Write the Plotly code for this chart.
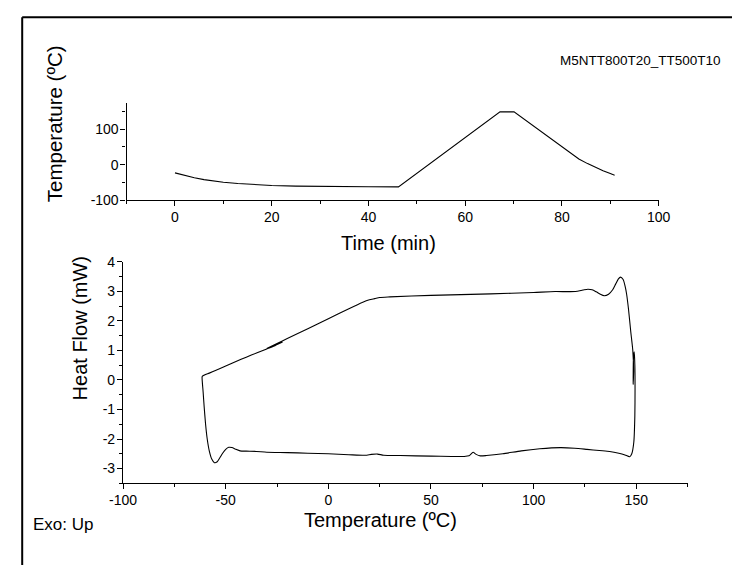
import plotly.graph_objects as go

# ---- temperature programme (top panel) ----
time_min = [0, 2, 4, 6, 8, 10, 13, 16, 20, 25, 30, 35, 40, 46.2,
            50, 55, 60, 67.2, 70.1, 75, 80, 82, 83.5, 85.3, 87, 88.5, 90, 90.9]
temp_prog = [-23, -31, -37, -42, -46, -49.5, -53, -56, -58.5, -60.5, -61.5, -62, -62.3, -62.5,
             -24.3, 26, 76.3, 148.8, 148.8, 99.8, 49.8, 30, 16, 3, -8, -17, -25, -29.5]

# ---- DSC loop (bottom panel), in time order ----
dsc_temp = [
    # first cooling
    -22.3, -26, -30, -35, -40, -45, -50, -55, -58, -61.3,
    # turn-around and heating
    -61.5, -61.0, -60.5, -59.8, -59.0, -58.0, -56.8, -55.5, -54.3, -53, -51.5, -50,
    -48.5, -47, -45, -43, -40, -35, -30, -20, -10, 0, 10, 18, 21, 24, 27, 35, 50,
    60, 66, 68.5, 70.5, 72, 74, 77, 85, 94, 103, 113, 120, 126, 132, 137, 141.5,
    144.5, 146.8,
    # isothermal hold
    147.8, 148.8, 149.3, 149.4, 149.3, 149.0, 148.6, 148.5, 148.7,
    # final cooling
    148.3, 147.3, 146.2, 145.3, 144.6, 143.6, 142.3, 141.3, 140, 138.5, 136.5,
    134.4, 132.5, 130.5, 128.5, 126.4, 124, 120.3, 110.5, 100, 79, 50, 30, 25,
    22.6, 20, 16.5, 10, 0, -10, -20, -25, -30,
]
dsc_heatflow = [
    1.28, 1.16, 1.05, 0.91, 0.77, 0.62, 0.47, 0.32, 0.23, 0.13,
    0.10, -0.40, -0.90, -1.50, -2.00, -2.40, -2.68, -2.80, -2.78, -2.65, -2.48, -2.35,
    -2.28, -2.29, -2.35, -2.40, -2.41, -2.42, -2.45, -2.46, -2.48, -2.50, -2.53, -2.55, -2.52, -2.51, -2.55, -2.56, -2.58,
    -2.59, -2.59, -2.57, -2.45, -2.52, -2.57, -2.56, -2.50, -2.40, -2.33, -2.29, -2.31, -2.35, -2.39, -2.42, -2.48,
    -2.54, -2.60,
    -2.50, -2.10, -1.20, -0.30, 0.50, 0.95, 0.70, -0.15, 0.30,
    1.00, 1.64, 2.40, 2.90, 3.16, 3.40, 3.48, 3.42, 3.25, 3.05, 2.90,
    2.85, 2.90, 2.98, 3.05, 3.07, 3.04, 2.99, 2.99, 2.96, 2.91, 2.86, 2.81, 2.79,
    2.75, 2.71, 2.62, 2.41, 2.07, 1.73, 1.40, 1.23, 1.06,
]

# ---- tick values / labels ----
top_x_ticks = [0, 20, 40, 60, 80, 100]
top_y_ticks = [-100, 0, 100]
bot_x_ticks = [-100, -50, 0, 50, 100, 150]
bot_y_ticks = [-3, -2, -1, 0, 1, 2, 3, 4]


def labels(vals):
    return [str(v) for v in vals]


W, H = 744, 573
FONT = "Liberation Sans, Arial, sans-serif"


def px_x(p):
    return p / W


def px_y(p):
    return 1 - p / H


fig = go.Figure()
fig.add_trace(go.Scatter(x=time_min, y=temp_prog, mode="lines",
                         line=dict(color="black", width=1.1),
                         xaxis="x", yaxis="y", showlegend=False, hoverinfo="skip"))
fig.add_trace(go.Scatter(x=dsc_temp, y=dsc_heatflow, mode="lines",
                         line=dict(color="black", width=1.1, shape="spline", smoothing=0.6),
                         xaxis="x2", yaxis="y2", showlegend=False, hoverinfo="skip"))

axis_common = dict(showgrid=False, zeroline=False, showline=True, linecolor="black",
                   linewidth=1.3, ticks="outside", ticklen=5, tickwidth=1.2,
                   tickcolor="black", tickfont=dict(family=FONT, size=14, color="black"),
                   tickmode="array", ticklabelstandoff=-1)

fig.update_layout(
    width=W, height=H, margin=dict(l=0, r=0, t=0, b=0),
    paper_bgcolor="white", plot_bgcolor="white",
    font=dict(family=FONT, color="black"),
    xaxis=dict(axis_common, domain=[px_x(116.7), px_x(668)], range=[-10, 100],
               tickvals=top_x_ticks, ticktext=labels(top_x_ticks), anchor="y",
               minor=dict(tickmode="linear", tick0=0, dtick=10, ticklen=3,
                          tickcolor="black", tickwidth=1.1, ticks="outside")),
    yaxis=dict(axis_common, domain=[px_y(197.7), px_y(97.3)], range=[-100, 175],
               tickvals=top_y_ticks, ticktext=labels(top_y_ticks), anchor="x",
               minor=dict(tickmode="linear", tick0=0, dtick=50, ticklen=3,
                          tickcolor="black", tickwidth=1.1, ticks="outside")),
    xaxis2=dict(axis_common, domain=[px_x(113), px_x(698)], range=[-100, 175],
                tickvals=bot_x_ticks, ticktext=labels(bot_x_ticks), anchor="y2",
                minor=dict(tickmode="linear", tick0=0, dtick=25, ticklen=3,
                           tickcolor="black", tickwidth=1.1, ticks="outside")),
    yaxis2=dict(axis_common, domain=[px_y(489), px_y(261)], range=[-3.5, 4],
                tickvals=bot_y_ticks, ticktext=labels(bot_y_ticks), anchor="x2",
                minor=dict(tickmode="linear", tick0=0, dtick=0.5, ticklen=3,
                           tickcolor="black", tickwidth=1.1, ticks="outside")),
)

# axis titles and labels
texts = [
    dict(text="Temperature (ºC)", x=px_x(42), y=px_y(119), textangle=-90, size=20.5),
    dict(text="Time (min)", x=px_x(388), y=px_y(242), textangle=0, size=20),
    dict(text="Heat Flow (mW)", x=px_x(68), y=px_y(330), textangle=-90, size=20),
    dict(text="Temperature (ºC)", x=px_x(380), y=px_y(527), textangle=0, size=20),
]
for t in texts:
    fig.add_annotation(text=t["text"], x=t["x"], y=t["y"], xref="paper", yref="paper",
                       showarrow=False, textangle=t["textangle"],
                       xanchor="center", yanchor="middle",
                       font=dict(family=FONT, size=t["size"], color="black"))

fig.add_annotation(text="M5NTT800T20_TT500T10", x=px_x(735), y=px_y(54), xref="paper",
                   yref="paper", showarrow=False, xanchor="right", yanchor="middle",
                   font=dict(family=FONT, size=13.5, color="black"))
fig.add_annotation(text="Exo: Up", x=px_x(18), y=px_y(531), xref="paper", yref="paper",
                   showarrow=False, xanchor="left", yanchor="middle",
                   font=dict(family=FONT, size=17, color="black"))

# outer frame (left and top edges)
fig.add_shape(type="line", xref="paper", yref="paper", x0=px_x(8.5), x1=px_x(8.5),
              y0=0, y1=px_y(9.5), line=dict(color="black", width=2))
fig.add_shape(type="line", xref="paper", yref="paper", x0=px_x(8.5), x1=1,
              y0=px_y(9.5), y1=px_y(9.5), line=dict(color="black", width=2))

fig.write_html("out.html")
